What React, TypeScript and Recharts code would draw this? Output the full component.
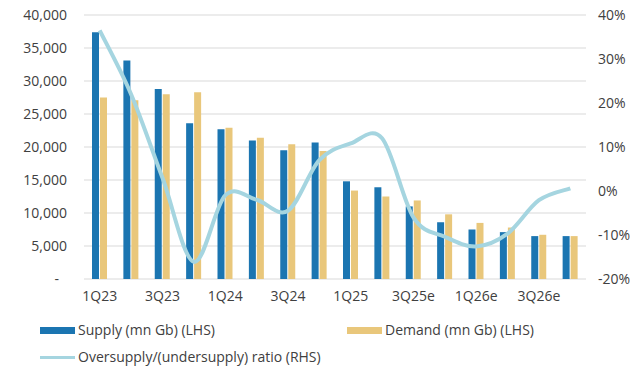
import { ComposedChart, Bar, Line, XAxis, YAxis, CartesianGrid } from "recharts"

const quarters = ["1Q23", "2Q23", "3Q23", "4Q23", "1Q24", "2Q24", "3Q24", "4Q24", "1Q25", "2Q25", "3Q25e", "4Q25e", "1Q26e", "2Q26e", "3Q26e", "4Q26e"]
const supply = [37400, 33100, 28800, 23600, 22700, 21000, 19500, 20700, 14800, 13900, 11000, 8600, 7500, 7100, 6500, 6500]
const demand = [27500, 27100, 28000, 28300, 22900, 21400, 20400, 19400, 13400, 12500, 11900, 9800, 8500, 7800, 6700, 6500]
const ratio = [0.365, 0.22, 0.03, -0.161, -0.01, -0.02, -0.045, 0.07, 0.108, 0.12, -0.06, -0.104, -0.126, -0.097, -0.021, 0.006]

const leftTicks = [0, 5000, 10000, 15000, 20000, 25000, 30000, 35000, 40000]
const rightTicks = [-0.2, -0.1, 0, 0.1, 0.2, 0.3, 0.4]

const data = quarters.map((q, i) => ({ name: q, supply: supply[i], demand: demand[i], ratio: ratio[i] }))

const FONT = "'Open Sans', sans-serif"
const TEXT = "#404040"
const BLUE = "#1b75b1"
const TAN = "#e9c77b"
const LIGHT = "#a5d5e0"

// excel-style smoothed line (catmull-rom through the points)
const smoothCurve = (context: any) => {
    let pts: number[][] = []
    return {
        areaStart() {},
        areaEnd() {},
        lineStart() { pts = [] },
        point(x: number, y: number) { pts.push([+x, +y]) },
        lineEnd() {
            if (!pts.length) return
            context.moveTo(pts[0][0], pts[0][1])
            for (let i = 0; i < pts.length - 1; i++) {
                const p0 = pts[i - 1] || pts[i]
                const p1 = pts[i]
                const p2 = pts[i + 1]
                const p3 = pts[i + 2] || pts[i + 1]
                context.bezierCurveTo(
                    p1[0] + (p2[0] - p0[0]) / 6, p1[1] + (p2[1] - p0[1]) / 6,
                    p2[0] - (p3[0] - p1[0]) / 6, p2[1] - (p3[1] - p1[1]) / 6,
                    p2[0], p2[1]
                )
            }
        },
    }
}

const LeftTick = (props: any) => {
    const { x, y, payload } = props
    const v = payload.value
    return (
        <text x={v === 0 ? x - 8 : x} y={y} dy="0.35em" textAnchor="end" fill={TEXT} fontSize={14} fontFamily={FONT}>
            {v === 0 ? "-" : v.toLocaleString("en-US")}
        </text>
    )
}

const App = () => {
    return (
        <div style={{ position: "absolute", left: 0, top: 0, width: 637, height: 366, background: "#fff" }}>
            <ComposedChart
                width={637}
                height={366}
                data={data}
                margin={{ top: 15, right: 0, left: 0, bottom: 57 }}
                barGap={1}
            >
                <CartesianGrid vertical={false} stroke="#d9d9d9" yAxisId="left" />
                <XAxis
                    dataKey="name"
                    interval={1}
                    axisLine={false}
                    tickLine={false}
                    tickSize={0}
                    tickMargin={12}
                    height={30}
                    tick={{ fill: TEXT, fontSize: 14, fontFamily: FONT }}
                />
                <YAxis
                    yAxisId="left"
                    width={84}
                    domain={[0, 40000]}
                    ticks={leftTicks}
                    axisLine={false}
                    tickLine={false}
                    tickSize={0}
                    tickMargin={17}
                    tick={<LeftTick />}
                />
                <YAxis
                    yAxisId="right"
                    orientation="right"
                    width={51}
                    domain={[-0.2, 0.4]}
                    ticks={rightTicks}
                    axisLine={false}
                    tickLine={false}
                    tickSize={0}
                    tickMargin={12}
                    tickFormatter={(v: number) => `${Math.round(v * 100)}%`}
                    tick={{ fill: TEXT, fontSize: 14, fontFamily: FONT }}
                />
                <Bar yAxisId="left" dataKey="supply" fill={BLUE} barSize={7} isAnimationActive={false} />
                <Bar yAxisId="left" dataKey="demand" fill={TAN} barSize={7} isAnimationActive={false} />
                <Line yAxisId="right" type={smoothCurve as any} dataKey="ratio" stroke={LIGHT} strokeWidth={4} dot={false} isAnimationActive={false} />
            </ComposedChart>
            <div style={{ position: "absolute", left: 40, top: 319, fontFamily: FONT, fontSize: 14, color: TEXT, lineHeight: "20px", whiteSpace: "nowrap" }}>
                <span style={{ display: "inline-block", width: 35, height: 7, background: BLUE, verticalAlign: "middle", marginRight: 3 }} />
                <span style={{ verticalAlign: "middle" }}>Supply (mn Gb) (LHS)</span>
            </div>
            <div style={{ position: "absolute", left: 347, top: 319, fontFamily: FONT, fontSize: 14, color: TEXT, lineHeight: "20px", whiteSpace: "nowrap" }}>
                <span style={{ display: "inline-block", width: 35, height: 7, background: TAN, verticalAlign: "middle", marginRight: 3 }} />
                <span style={{ verticalAlign: "middle" }}>Demand (mn Gb) (LHS)</span>
            </div>
            <div style={{ position: "absolute", left: 40, top: 346, fontFamily: FONT, fontSize: 14, color: TEXT, lineHeight: "20px", whiteSpace: "nowrap" }}>
                <span style={{ display: "inline-block", width: 35, height: 3, background: LIGHT, verticalAlign: "middle", marginRight: 3 }} />
                <span style={{ verticalAlign: "middle" }}>Oversupply/(undersupply) ratio (RHS)</span>
            </div>
        </div>
    )
}

export default App
